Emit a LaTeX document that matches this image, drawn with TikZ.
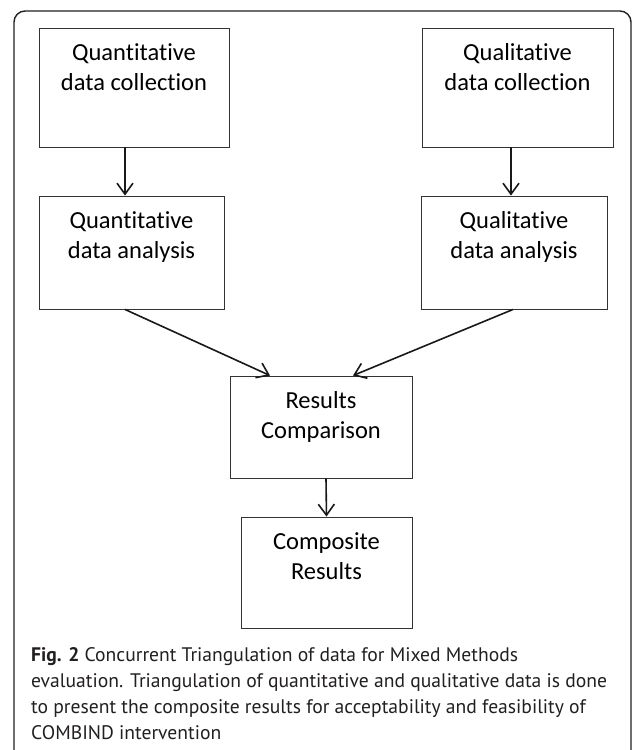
\documentclass[tikz,border=0pt]{standalone}
\usepackage{fontspec}
\setmainfont{Carlito}[Ligatures=NoCommon]
\newfontfamily\capfont{PT Sans}
\usetikzlibrary{arrows.meta}
\definecolor{ink}{HTML}{231F20}
\tikzset{
  box/.style={draw=black!80, line width=0.9pt, inner sep=0pt},
  lbl/.style={anchor=north, inner sep=0pt, align=center, text=black,
    font=\fontsize{24.5}{30}\selectfont},
  arr/.style={draw=black!90, line width=1.6pt,
    -{Straight Barb[length=11pt, width=16pt, line width=1.6pt]}},
}
\newcommand{\firstline}{\rule{0pt}{32.5pt}}
\newcommand{\capstrut}{\rule{0pt}{20pt}}
\begin{document}
\begin{tikzpicture}[x=1pt, y=-1pt]
  \useasboundingbox (0,0) rectangle (633,750);
  \fill[white] (0,0) rectangle (633,750);
  % outer frame
  \draw[draw=ink, line width=1.4pt, rounded corners=11pt] (14,11) rectangle (631,770);

  % boxes
  \node[box, minimum width=190pt, minimum height=119pt] (qc) at (134,87.5) {};
  \node[box, minimum width=191pt, minimum height=119pt] (lc) at (517.5,87.5) {};
  \node[box, minimum width=185pt, minimum height=113pt] (qa) at (131.5,252.5) {};
  \node[box, minimum width=186pt, minimum height=113pt] (la) at (514,252.5) {};
  \node[box, minimum width=182pt, minimum height=102pt] (rc) at (321,427) {};
  \node[box, minimum width=171pt, minimum height=111pt] (cr) at (326.5,572.5) {};

  % box texts
  \node[lbl] (tqc) at (qc.north) {\firstline Quantitative\\data collection};
  \node[lbl] (tlc) at (lc.north) {\firstline Qualitative\\data collection};
  \node[lbl] (tqa) at (qa.north) {\firstline Quantitative\\data analysis};
  \node[lbl] (tla) at (la.north) {\firstline Qualitative\\data analysis};
  \node[lbl] (trc) at (rc.north) {\firstline Results\\Comparison};
  \node[lbl] (tcr) at (cr.north) {\firstline Composite\\Results};

  % connectors
  \draw[arr] ([xshift=-9pt]qc.south) -- ([xshift=-6.5pt]qa.north);
  \draw[arr] ([xshift=-6.5pt]lc.south) -- ([xshift=-3pt]la.north);
  \draw[arr] ([xshift=-6.5pt]qa.south) -- ([xshift=-51pt]rc.north);
  \draw[arr] ([xshift=-1pt]la.south) -- ([xshift=32pt]rc.north);
  \draw[arr] ([xshift=5pt]rc.south) -- (cr.north);

  % caption
  \node[anchor=north west, inner sep=0pt, align=left, text=ink,
        font=\capfont\fontsize{19.6}{26}\selectfont] (cap) at (31,641)
    {\capstrut\textbf{Fig. 2} Concurrent Triangulation of data for Mixed Methods\\
     evaluation. Triangulation of quantitative and qualitative data is done\\
     to present the composite results for acceptability and feasibility of\\
     COMBIND intervention};
\end{tikzpicture}
\end{document}
